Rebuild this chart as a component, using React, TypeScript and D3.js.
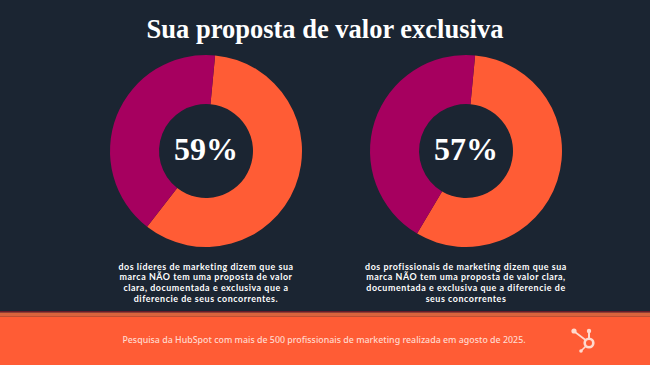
import { useEffect, useRef } from 'react';
import * as d3 from 'd3';

const COLORS = {
  bg: '#1b2532',
  orange: '#ff5c35',
  purple: '#a6005f',
  strip: '#d9633c',
  text: '#ffffff',
  footerText: '#ffd9ce',
};

const W = 650;
const H = 365;

const TITLE = 'Sua proposta de valor exclusiva';
const PERCENTS = [59, 57];
const CENTERS_X = [206, 466];
const DESCRIPTIONS = [
  [
    'dos líderes de marketing dizem que sua',
    'marca NÃO tem uma proposta de valor',
    'clara, documentada e exclusiva que a',
    'diferencie de seus concorrentes.',
  ],
  [
    'dos profissionais de marketing dizem que sua',
    'marca NÃO tem uma proposta de valor clara,',
    'documentada e exclusiva que a diferencie de',
    'seus concorrentes',
  ],
];
const FOOTER = 'Pesquisa da HubSpot com mais de 500 profissionais de marketing realizada em agosto de 2025.';

export default function App() {
  const ref = useRef<SVGSVGElement | null>(null);

  useEffect(() => {
    if (!ref.current) return;
    const svg = d3.select(ref.current);
    svg.selectAll('*').remove();

    svg.append('rect').attr('width', W).attr('height', H).attr('fill', COLORS.bg);

    // title
    svg.append('text')
      .attr('x', W / 2).attr('y', 38)
      .attr('text-anchor', 'middle')
      .style('font-family', '"Liberation Serif", "DejaVu Serif", serif')
      .style('font-weight', 700)
      .style('font-size', '26.5px')
      .attr('fill', COLORS.text)
      .text(TITLE);

    const offset = 0.095;
    const pie = d3.pie<{ v: number; c: string }>()
      .sort(null)
      .value(d => d.v)
      .startAngle(offset)
      .endAngle(offset + Math.PI * 2);
    const arc = d3.arc<d3.PieArcDatum<{ v: number; c: string }>>()
      .innerRadius(47)
      .outerRadius(96);

    PERCENTS.forEach((p, i) => {
      const g = svg.append('g').attr('transform', `translate(${CENTERS_X[i]},151)`);
      const slices = pie([
        { v: p, c: COLORS.orange },
        { v: 100 - p, c: COLORS.purple },
      ]);
      g.selectAll('path')
        .data(slices)
        .join('path')
        .attr('d', arc)
        .attr('fill', d => d.data.c);

      g.append('text')
        .attr('x', 0).attr('y', 8.5)
        .attr('text-anchor', 'middle')
        .style('font-family', '"Liberation Serif", "DejaVu Serif", serif')
        .style('font-weight', 700)
        .style('font-size', '32px')
        .attr('fill', COLORS.text)
        .text(`${p}%`);

      DESCRIPTIONS[i].forEach((line, j) => {
        svg.append('text')
          .attr('x', CENTERS_X[i])
          .attr('y', 269.5 + j * 10.7)
          .attr('text-anchor', 'middle')
          .style('font-family', 'Lato, "Noto Sans", sans-serif')
          .style('font-weight', 700)
          .style('font-size', '8.9px')
          .style('letter-spacing', '0.55px')
          .attr('fill', COLORS.text)
          .text(line);
      });
    });

    // footer
    svg.append('rect').attr('x', 0).attr('y', 311).attr('width', W).attr('height', 1.5).attr('fill', '#6a1a2a');
    svg.append('rect').attr('x', 0).attr('y', 312.5).attr('width', W).attr('height', 4).attr('fill', COLORS.strip);
    svg.append('rect').attr('x', 0).attr('y', 316.5).attr('width', W).attr('height', H - 316.5).attr('fill', COLORS.orange);

    svg.append('text')
      .attr('x', 324).attr('y', 343)
      .attr('text-anchor', 'middle')
      .style('font-family', '"Noto Sans", sans-serif')
      .style('font-weight', 500)
      .style('font-size', '8.85px')
      .attr('fill', COLORS.footerText)
      .text(FOOTER);

    // HubSpot sprocket
    const logo = svg.append('g').attr('transform', 'translate(589,343)').attr('fill', COLORS.footerText).attr('stroke', COLORS.footerText);
    logo.append('circle').attr('r', 4.3).attr('fill', 'none').attr('stroke-width', 2.6);
    logo.append('line').attr('x1', 0).attr('y1', -4).attr('x2', 0).attr('y2', -11).attr('stroke-width', 2);
    logo.append('circle').attr('cx', 0).attr('cy', -12).attr('r', 2.2).attr('stroke', 'none');
    logo.append('line').attr('x1', -3.5).attr('y1', -3).attr('x2', -14).attr('y2', -11).attr('stroke-width', 1.6);
    logo.append('circle').attr('cx', -15).attr('cy', -12).attr('r', 2.6).attr('stroke', 'none');
    logo.append('line').attr('x1', -3).attr('y1', 3).attr('x2', -7.5).attr('y2', 7.5).attr('stroke-width', 1.6);
    logo.append('circle').attr('cx', -8).attr('cy', 8).attr('r', 1.8).attr('stroke', 'none');
  }, []);

  return (
    <svg ref={ref} width={W} height={H}
      style={{ position: 'absolute', left: 0, top: 0, display: 'block' }} />
  );
}
